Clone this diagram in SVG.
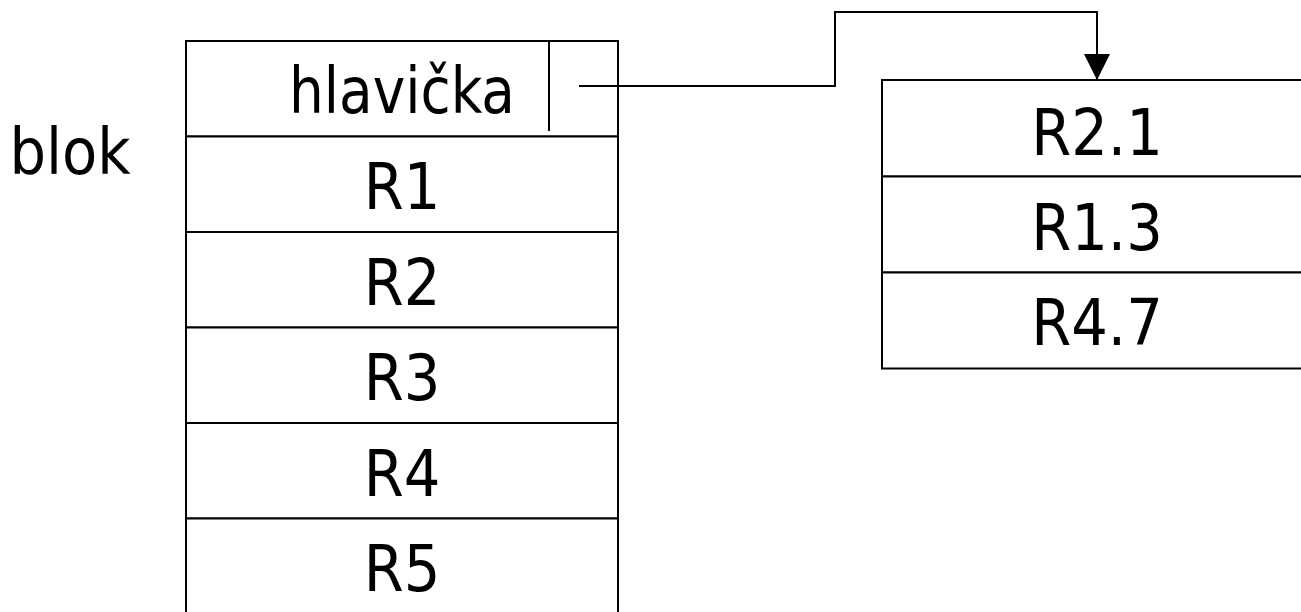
<svg xmlns="http://www.w3.org/2000/svg" width="1301" height="612" viewBox="0 0 1301 612">
<style>
.box{fill:#fff;stroke:#000;stroke-width:2}
.ln{stroke:#000;stroke-width:2;fill:none}
.t{font-family:"DejaVu Sans Condensed","DejaVu Sans",Tahoma,sans-serif;font-size:64px;fill:#000;text-anchor:middle}
</style>
<defs>
<marker id="arr" markerUnits="userSpaceOnUse" markerWidth="26" markerHeight="26" refX="26" refY="13" orient="auto" viewBox="0 0 26 26">
<path d="M0,0 L26,13 L0,26 z" fill="#000"/>
</marker>
</defs>
<rect width="1301" height="612" fill="#fff"/>
<text class="t" x="70" y="174">blok</text>
<g id="blok">
<rect class="box" x="186" y="41" width="432" height="95.5"/>
<line class="ln" x1="549" y1="41" x2="549" y2="131"/>
<text class="t" x="402" y="113" textLength="226" lengthAdjust="spacingAndGlyphs">hlavička</text>
<rect class="box" x="186" y="136.5" width="432" height="95.5"/>
<text class="t" x="402" y="209">R1</text>
<rect class="box" x="186" y="232" width="432" height="95.5"/>
<text class="t" x="402" y="305">R2</text>
<rect class="box" x="186" y="327.5" width="432" height="95.5"/>
<text class="t" x="402" y="400">R3</text>
<rect class="box" x="186" y="423" width="432" height="95.5"/>
<text class="t" x="402" y="496">R4</text>
<rect class="box" x="186" y="518.5" width="432" height="95.5"/>
<text class="t" x="402" y="591">R5</text>
</g>
<g id="overflow">
<rect class="box" x="882" y="80" width="440" height="96.5"/>
<text class="t" x="1097" y="155">R2.1</text>
<rect class="box" x="882" y="176.5" width="440" height="96"/>
<text class="t" x="1097" y="250">R1.3</text>
<rect class="box" x="882" y="272.5" width="440" height="96"/>
<text class="t" x="1097" y="345">R4.7</text>
</g>
<g id="connectors">
<polyline class="ln" points="579,86 835,86 835,12 1097,12 1097,80" marker-end="url(#arr)"/>
</g>
</svg>
